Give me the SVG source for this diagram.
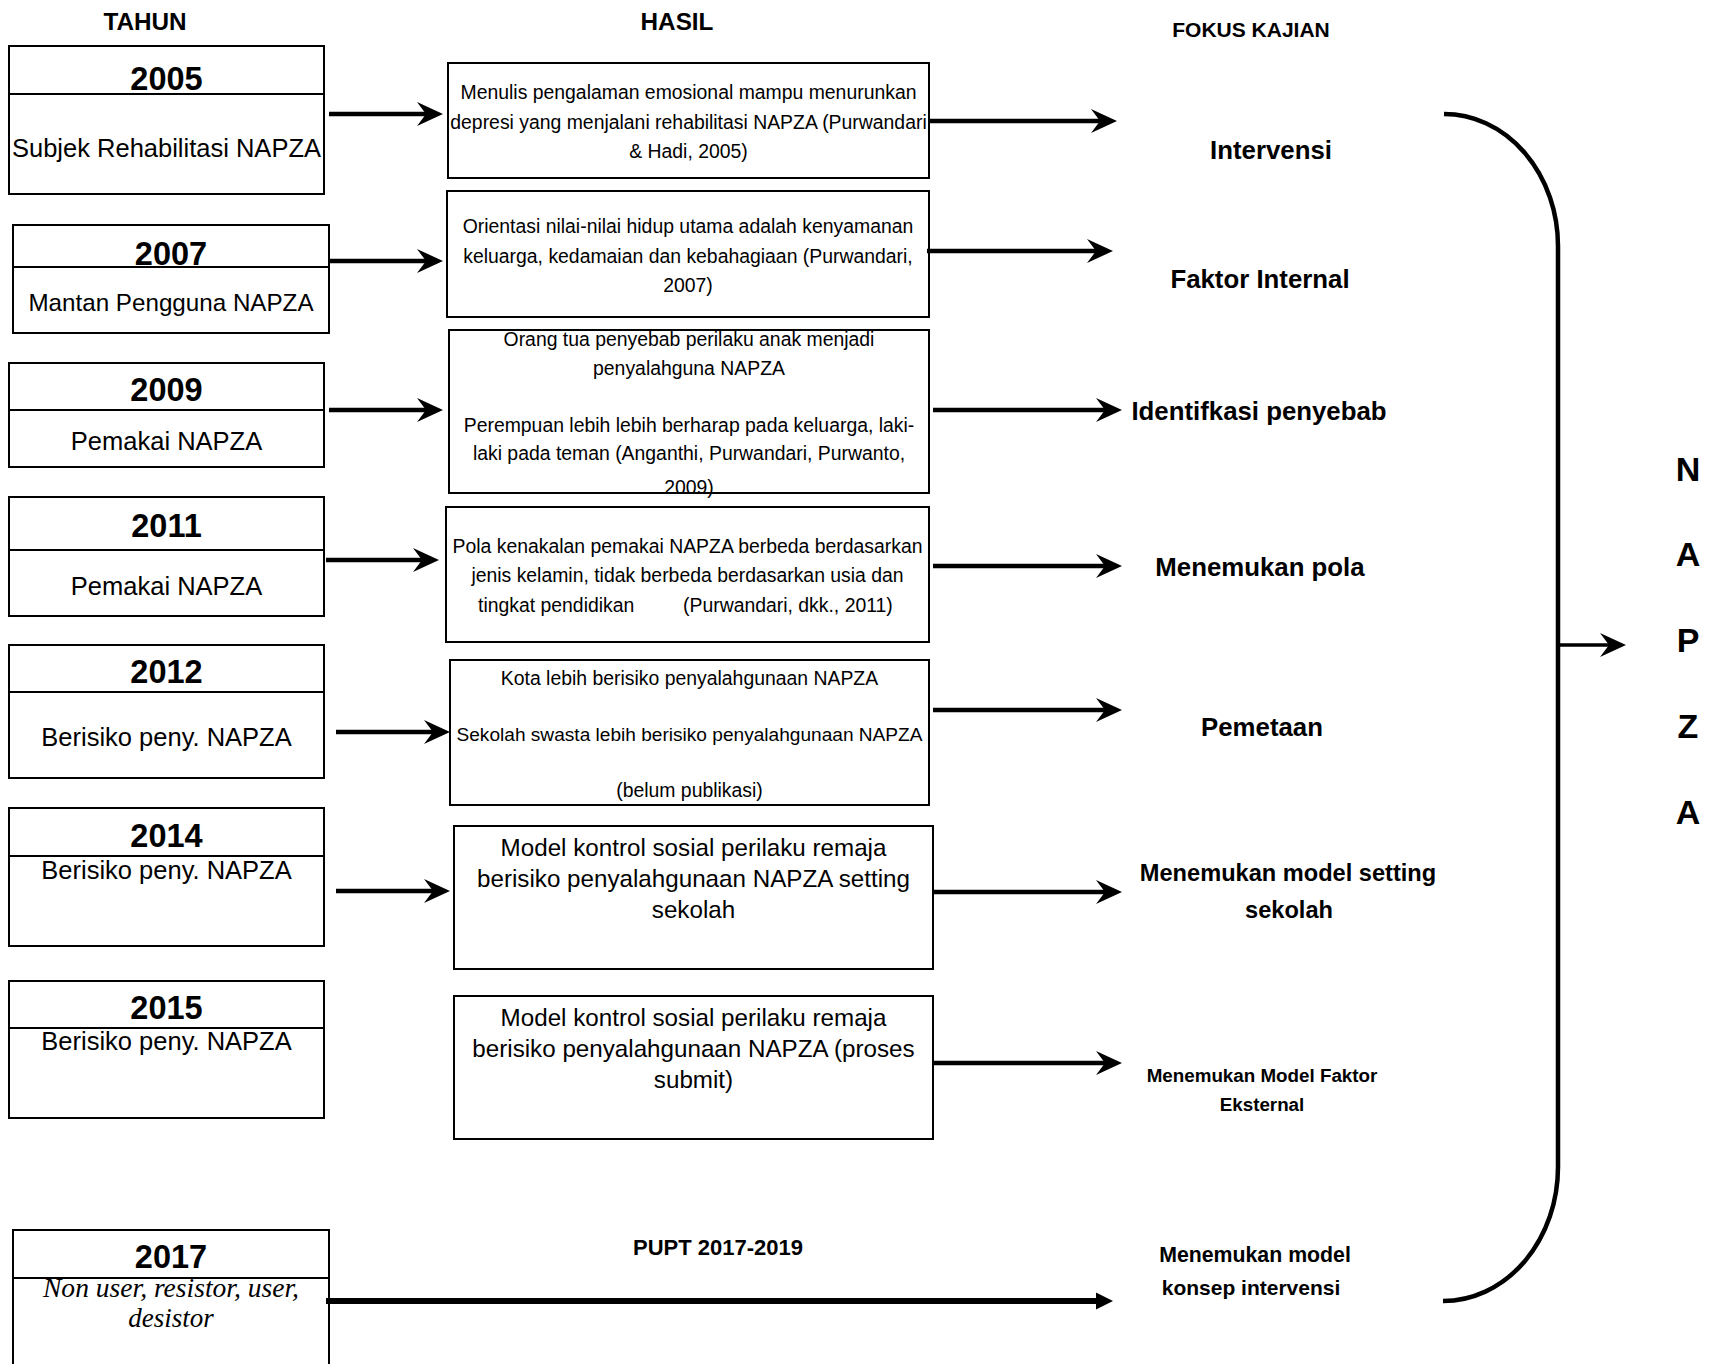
<svg xmlns="http://www.w3.org/2000/svg" width="1713" height="1364" viewBox="0 0 1713 1364">
<style>
text{font-family:"Liberation Sans",Arial,sans-serif;fill:#000;text-anchor:middle}
.box{fill:#fff;stroke:#000;stroke-width:2}
.div{stroke:#000;stroke-width:2}
.yr{font-size:32.5px;font-weight:bold}
.sub{font-size:25.5px}
.hs{font-size:19.4px}
.hl{font-size:24.2px}
.fk{font-size:25.8px;font-weight:bold}
.hd{font-size:24.3px;font-weight:bold}
.ital{font-family:"Liberation Serif","Times New Roman",serif;font-style:italic;font-size:27px}
.con{stroke:#000;stroke-width:4.5;fill:none}
.nap{font-size:34px;font-weight:bold}
</style>
<defs>
<marker id="ah" markerUnits="userSpaceOnUse" markerWidth="32" markerHeight="32" viewBox="-28 -16 32 32" refX="-10" refY="0" orient="auto">
<path d="M0,0 L-26,-12 L-17,0 L-26,12 Z" fill="#000"/>
</marker>
<marker id="tri" markerUnits="userSpaceOnUse" markerWidth="24" markerHeight="24" viewBox="-20 -12 24 24" refX="-8" refY="0" orient="auto">
<path d="M0,0 L-17,-8.5 L-17,8.5 Z" fill="#000"/>
</marker>
</defs>
<rect width="1713" height="1364" fill="#fff"/>

<g id="headings">
<text class="hd" x="145" y="30">TAHUN</text>
<text class="hd" x="677" y="30">HASIL</text>
<text class="hd" x="1251" y="37" style="font-size:21px">FOKUS KAJIAN</text>
</g>

<g id="y2005">
<rect class="box" x="9" y="46" width="315" height="148"/>
<line class="div" x1="9" y1="94" x2="324" y2="94"/>
<text class="yr" x="166.5" y="90">2005</text>
<text class="sub" x="166.5" y="157">Subjek Rehabilitasi NAPZA</text>
</g>
<g id="y2007">
<rect class="box" x="13" y="225" width="316" height="108"/>
<line class="div" x1="13" y1="267" x2="329" y2="267"/>
<text class="yr" x="171" y="265">2007</text>
<text class="sub" x="171" y="311" style="font-size:24.2px">Mantan Pengguna NAPZA</text>
</g>
<g id="y2009">
<rect class="box" x="9" y="363" width="315" height="104"/>
<line class="div" x1="9" y1="410" x2="324" y2="410"/>
<text class="yr" x="166.5" y="401">2009</text>
<text class="sub" x="166.5" y="450">Pemakai NAPZA</text>
</g>
<g id="y2011">
<rect class="box" x="9" y="497" width="315" height="119"/>
<line class="div" x1="9" y1="550" x2="324" y2="550"/>
<text class="yr" x="166.5" y="537">2011</text>
<text class="sub" x="166.5" y="595">Pemakai NAPZA</text>
</g>
<g id="y2012">
<rect class="box" x="9" y="645" width="315" height="133"/>
<line class="div" x1="9" y1="692" x2="324" y2="692"/>
<text class="yr" x="166.5" y="683">2012</text>
<text class="sub" x="166.5" y="746">Berisiko peny. NAPZA</text>
</g>
<g id="y2014">
<rect class="box" x="9" y="808" width="315" height="138"/>
<line class="div" x1="9" y1="856" x2="324" y2="856"/>
<text class="yr" x="166.5" y="847">2014</text>
<text class="sub" x="166.5" y="879">Berisiko peny. NAPZA</text>
</g>
<g id="y2015">
<rect class="box" x="9" y="981" width="315" height="137"/>
<line class="div" x1="9" y1="1028" x2="324" y2="1028"/>
<text class="yr" x="166.5" y="1019">2015</text>
<text class="sub" x="166.5" y="1050">Berisiko peny. NAPZA</text>
</g>
<g id="y2017">
<rect class="box" x="13" y="1230" width="316" height="160"/>
<line class="div" x1="13" y1="1278" x2="329" y2="1278"/>
<text class="yr" x="171" y="1268">2017</text>
<text class="ital" x="171" y="1297" textLength="256" lengthAdjust="spacingAndGlyphs">Non user, resistor, user,</text>
<text class="ital" x="171" y="1327">desistor</text>
</g>

<g id="h1">
<rect class="box" x="448" y="63" width="481" height="115"/>
<text class="hs" x="688.5" y="99">Menulis pengalaman emosional mampu menurunkan</text>
<text class="hs" x="688.5" y="129">depresi yang menjalani rehabilitasi NAPZA (Purwandari</text>
<text class="hs" x="688.5" y="158">&amp; Hadi, 2005)</text>
</g>
<g id="h2">
<rect class="box" x="447" y="191" width="482" height="126"/>
<text class="hs" x="688" y="233">Orientasi nilai-nilai hidup utama adalah kenyamanan</text>
<text class="hs" x="688" y="263">keluarga, kedamaian dan kebahagiaan (Purwandari,</text>
<text class="hs" x="688" y="292">2007)</text>
</g>
<g id="h3">
<rect class="box" x="449" y="330" width="480" height="163"/>
<text class="hs" x="689" y="346">Orang tua penyebab perilaku anak menjadi</text>
<text class="hs" x="689" y="375">penyalahguna NAPZA</text>
<text class="hs" x="689" y="432">Perempuan lebih lebih berharap pada keluarga, laki-</text>
<text class="hs" x="689" y="460">laki pada teman (Anganthi, Purwandari, Purwanto,</text>
<text class="hs" x="689" y="494">2009)</text>
</g>
<g id="h4">
<rect class="box" x="446" y="507" width="483" height="135"/>
<text class="hs" x="687.5" y="553">Pola kenakalan pemakai NAPZA berbeda berdasarkan</text>
<text class="hs" x="687.5" y="582">jenis kelamin, tidak berbeda berdasarkan usia dan</text>
<text class="hs" x="478" y="612" style="text-anchor:start">tingkat pendidikan</text>
<text class="hs" x="683" y="612" style="text-anchor:start">(Purwandari, dkk., 2011)</text>
</g>
<g id="h5">
<rect class="box" x="450" y="660" width="479" height="145"/>
<text class="hs" x="689.5" y="685">Kota lebih berisiko penyalahgunaan NAPZA</text>
<text class="hs" x="689.5" y="741" style="font-size:19.1px">Sekolah swasta lebih berisiko penyalahgunaan NAPZA</text>
<text class="hs" x="689.5" y="797">(belum publikasi)</text>
</g>
<g id="h6">
<rect class="box" x="454" y="826" width="479" height="143"/>
<text class="hl" x="693.5" y="856">Model kontrol sosial perilaku remaja</text>
<text class="hl" x="693.5" y="887">berisiko penyalahgunaan NAPZA setting</text>
<text class="hl" x="693.5" y="918">sekolah</text>
</g>
<g id="h7">
<rect class="box" x="454" y="996" width="479" height="143"/>
<text class="hl" x="693.5" y="1026">Model kontrol sosial perilaku remaja</text>
<text class="hl" x="693.5" y="1057">berisiko penyalahgunaan NAPZA (proses</text>
<text class="hl" x="693.5" y="1088">submit)</text>
</g>
<g id="pupt">
<text class="hd" x="718" y="1255" style="font-size:22px">PUPT 2017-2019</text>
</g>

<g id="f1"><text class="fk" x="1271" y="159">Intervensi</text></g>
<g id="f2"><text class="fk" x="1260" y="288">Faktor Internal</text></g>
<g id="f3"><text class="fk" x="1259" y="420">Identifkasi penyebab</text></g>
<g id="f4"><text class="fk" x="1260" y="576">Menemukan pola</text></g>
<g id="f5"><text class="fk" x="1262" y="736">Pemetaan</text></g>
<g id="f6">
<text class="fk" x="1288" y="881" style="font-size:23.6px">Menemukan model setting</text>
<text class="fk" x="1289" y="918" style="font-size:23.6px">sekolah</text>
</g>
<g id="f7">
<text class="fk" x="1262" y="1082" style="font-size:18.8px">Menemukan Model Faktor</text>
<text class="fk" x="1262" y="1111" style="font-size:18.8px">Eksternal</text>
</g>
<g id="f8">
<text class="fk" x="1255" y="1262" style="font-size:21.3px">Menemukan model</text>
<text class="fk" x="1251" y="1295" style="font-size:21px">konsep intervensi</text>
</g>

<g id="napza">
<text class="nap" x="1688" y="481">N</text>
<text class="nap" x="1688" y="566">A</text>
<text class="nap" x="1688" y="652">P</text>
<text class="nap" x="1688" y="738">Z</text>
<text class="nap" x="1688" y="824">A</text>
</g>

<g id="connectors">
<line class="con" x1="329" y1="114" x2="433" y2="114" marker-end="url(#ah)"/>
<line class="con" x1="329" y1="261" x2="433" y2="261" marker-end="url(#ah)"/>
<line class="con" x1="329" y1="410" x2="433" y2="410" marker-end="url(#ah)"/>
<line class="con" x1="326" y1="560" x2="429" y2="560" marker-end="url(#ah)"/>
<line class="con" x1="336" y1="732" x2="440" y2="732" marker-end="url(#ah)"/>
<line class="con" x1="336" y1="891" x2="440" y2="891" marker-end="url(#ah)"/>

<line class="con" x1="929" y1="121" x2="1107" y2="121" marker-end="url(#ah)"/>
<line class="con" x1="927" y1="251" x2="1103" y2="251" marker-end="url(#ah)"/>
<line class="con" x1="933" y1="410" x2="1112" y2="410" marker-end="url(#ah)"/>
<line class="con" x1="933" y1="566" x2="1112" y2="566" marker-end="url(#ah)"/>
<line class="con" x1="933" y1="710" x2="1112" y2="710" marker-end="url(#ah)"/>
<line class="con" x1="933" y1="892" x2="1112" y2="892" marker-end="url(#ah)"/>
<line class="con" x1="933" y1="1063" x2="1112" y2="1063" marker-end="url(#ah)"/>

<line class="con" x1="326" y1="1301" x2="1105" y2="1301" style="stroke-width:6" marker-end="url(#tri)"/>

<path class="con" d="M1444,114 A114,132 0 0 1 1558,246 L1558,1167 A115,134 0 0 1 1443,1301"/>
<line class="con" x1="1558" y1="645" x2="1616" y2="645" style="stroke-width:3.5" marker-end="url(#ah)"/>
</g>
</svg>
